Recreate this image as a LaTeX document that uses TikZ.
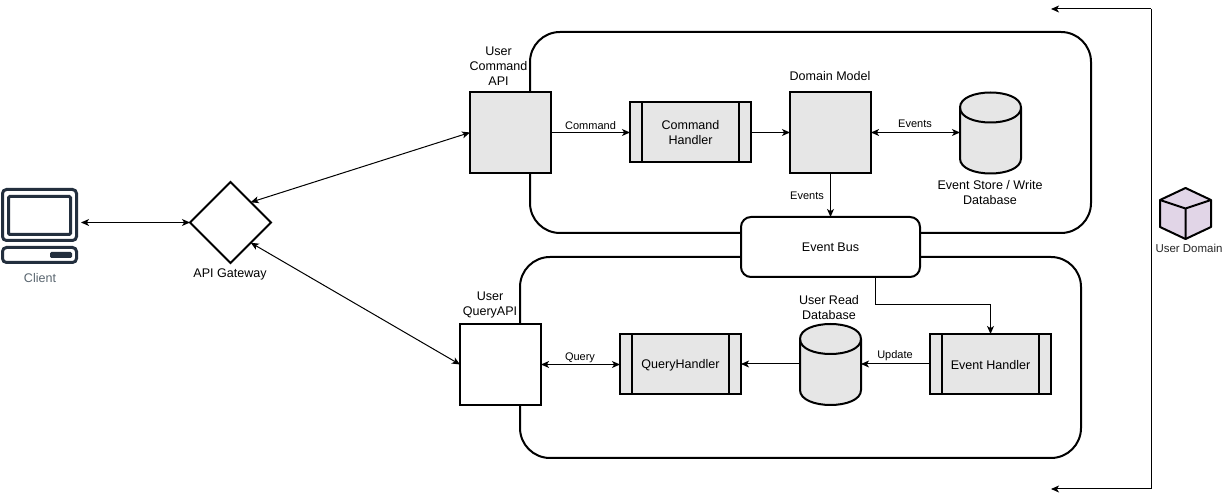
\documentclass[tikz,border=0pt]{standalone}
\usepackage{fontspec}
\setmainfont{Liberation Sans}
\usetikzlibrary{arrows.meta,shapes.geometric}
\definecolor{boxgrey}{HTML}{E6E6E6}
\definecolor{cubepurple}{HTML}{E1D5E7}
\definecolor{iconblue}{HTML}{232F3E}
\definecolor{icontext}{HTML}{5A6670}
\tikzset{
  x=0.75pt,y=-0.75pt,
  shapeline/.style={draw=black,line width=1.5pt,outer sep=0pt,inner sep=0pt},
  container/.style={shapeline,rounded corners=22.5pt,minimum width=420.75pt,minimum height=150.75pt,fill=white},
  apibox/.style={shapeline,minimum width=60.75pt,minimum height=60.75pt},
  handlerbox/.style={shapeline,fill=boxgrey,minimum width=90.75pt,minimum height=45pt,align=center,font=\fontsize{9.4}{11.25}\selectfont},
  busbox/.style={shapeline,fill=white,rounded corners=7.5pt,minimum width=134.25pt,minimum height=45pt,font=\fontsize{9.4}{11.25}\selectfont},
  gateway/.style={shapeline,diamond,aspect=1,fill=white,minimum width=60.75pt,minimum height=60.75pt},
  ghost/.style={outer sep=0pt,inner sep=0pt},
  caption/.style={align=center,font=\fontsize{9.4}{11.25}\selectfont,inner sep=0pt},
  edgelabel/.style={font=\fontsize{8.25}{10}\selectfont,inner sep=0pt},
  conn/.style={draw=black,line width=0.75pt,-{Stealth[length=6pt,width=5.2pt,inset=1.6pt]}},
  biconn/.style={draw=black,line width=0.75pt,{Stealth[length=6pt,width=5.2pt,inset=1.6pt]}-{Stealth[length=6pt,width=5.2pt,inset=1.6pt]}},
}
\newcommand{\cylshape}[3]{%
  \node[ghost,minimum width=45.75pt,minimum height=60.75pt] (#1) at (#2,#3) {};
  \begin{scope}[shift={(#2-30.5,#3-40.5)}]
    \draw[line width=1.5pt,fill=boxgrey] (0,15) .. controls (0,-5) and (61,-5) .. (61,15) -- (61,66) .. controls (61,86) and (0,86) .. (0,66) -- cycle;
    \draw[line width=1.5pt] (0,15) .. controls (0,35) and (61,35) .. (61,15);
  \end{scope}}
\newcommand{\sidebars}[1]{%
  \draw[line width=1.5pt] ([xshift=9pt]#1.north west) -- ([xshift=9pt]#1.south west);
  \draw[line width=1.5pt] ([xshift=-9pt]#1.north east) -- ([xshift=-9pt]#1.south east);}
\begin{document}
\begin{tikzpicture}
\useasboundingbox[fill=white] (0,0) rectangle (1224,498);
% containers
\node[container] (upper) at (810.5,132.5) {};
\node[container] (lower) at (800.5,357.5) {};
% boxes
\node[apibox,fill=boxgrey] (cmdapi) at (510.5,132.5) {};
\node[apibox,fill=white] (qryapi) at (500.5,364.5) {};
\node[apibox,fill=boxgrey] (domain) at (830.5,132.5) {};
\node[handlerbox] (cmdh) at (690.5,132) {};
\node[handlerbox] (qryh) at (680.5,364) {};
\node[handlerbox] (evth) at (990.5,364) {};
\sidebars{cmdh}
\sidebars{qryh}
\sidebars{evth}
\node[caption,yshift=-0.75pt] (cmdhtext) at (cmdh) {Command\\Handler};
\node[caption,yshift=-0.75pt] (qryhtext) at (qryh) {QueryHandler};
\node[caption,yshift=-0.75pt] (evthtext) at (evth) {Event Handler};
\node[busbox] (bus) at (830.5,247) {Event Bus};
\node[gateway] (gw) at (230.5,222.5) {};
\cylshape{storedb}{990.5}{133}
\cylshape{readdb}{830.5}{364.5}
% client icon
\node[ghost,minimum width=60.75pt,minimum height=60pt] (client) at (40.5,222.5) {};
\begin{scope}[line width=2.25pt,draw=iconblue]
  \draw[rounded corners=3pt] (2.5,189.5) rectangle (76.5,240.5);
  \draw[rounded corners=1pt] (8.5,196.5) rectangle (70.5,234.5);
  \draw[rounded corners=3pt] (2.5,247.5) rectangle (76.5,262.5);
  \fill[iconblue,rounded corners=1pt] (50,252) rectangle (72,258);
\end{scope}
% cube
\node[ghost,minimum width=38.25pt,minimum height=38.25pt] (cube) at (1185.5,213.5) {};
\draw[line width=1.5pt,line join=round,fill=cubepurple] (1185.5,188) -- (1211,200) -- (1211,227) -- (1185.5,239) -- (1160,227) -- (1160,200) -- cycle;
\draw[line width=1.5pt,line join=round] (1160,200) -- (1185.5,208.5) -- (1211,200) (1185.5,208.5) -- (1185.5,239);
% free ends of the bracket
\coordinate (brA) at (1051,9);
\coordinate (brB) at (1151,9);
\coordinate (brC) at (1151,489);
\coordinate (brD) at (1051,489);
\coordinate (busdrop) at (875.5,277);
\coordinate (busmid) at (875.5,305);
\coordinate (evtmid) at (990.5,305);
% connectors
\draw[biconn] (client.east) -- (gw.west);
\draw[biconn] (gw.north east) -- (cmdapi.west);
\draw[biconn] (gw.south east) -- (qryapi.west);
\draw[conn] (cmdapi.east) -- (cmdh.west |- cmdapi.east);
\draw[conn] (cmdh.east |- domain.west) -- (domain.west);
\draw[biconn] (domain.east) -- (storedb.west |- domain.east);
\draw[conn] (domain.south) -- (bus.north);
\draw[conn] (busdrop) -- (busmid) -- (evtmid) -- (evth.north);
\draw[conn] (evth.west) -- (readdb.east |- evth.west);
\draw[conn] (readdb.west |- qryh.east) -- (qryh.east);
\draw[biconn] (qryapi.east) -- (qryh.west |- qryapi.east);
\draw[conn] (brB) -- (brA);
\draw[conn] (brB) -- (brC) -- (brD);
% captions
\node[caption,text=icontext] (clientcap) at (40,278) {Client};
\node[caption] (gwcap) at (230,274.5) {API Gateway};
\node[caption] (cmdcap) at (498.5,66) {User\\Command\\API};
\node[caption] (qrycap) at (490,304.5) {User\\QueryAPI};
\node[caption] (domcap) at (830,76) {Domain Model};
\node[caption] (storecap) at (990,192.5) {Event Store / Write\\Database};
\node[caption] (readcap) at (829,307.5) {User Read\\Database};
\node[caption,text=black!85,font=\fontsize{8.6}{10}\selectfont] (cubecap) at (1189,248.5) {User Domain};
% connector labels
\node[edgelabel] (lcmd) at (590.5,126) {Command};
\node[edgelabel] (levt) at (915,124) {Events};
\node[edgelabel] (lbus) at (807,196) {Events};
\node[edgelabel] (lupd) at (895,356) {Update};
\node[edgelabel] (lqry) at (580,358) {Query};
\end{tikzpicture}
\end{document}
